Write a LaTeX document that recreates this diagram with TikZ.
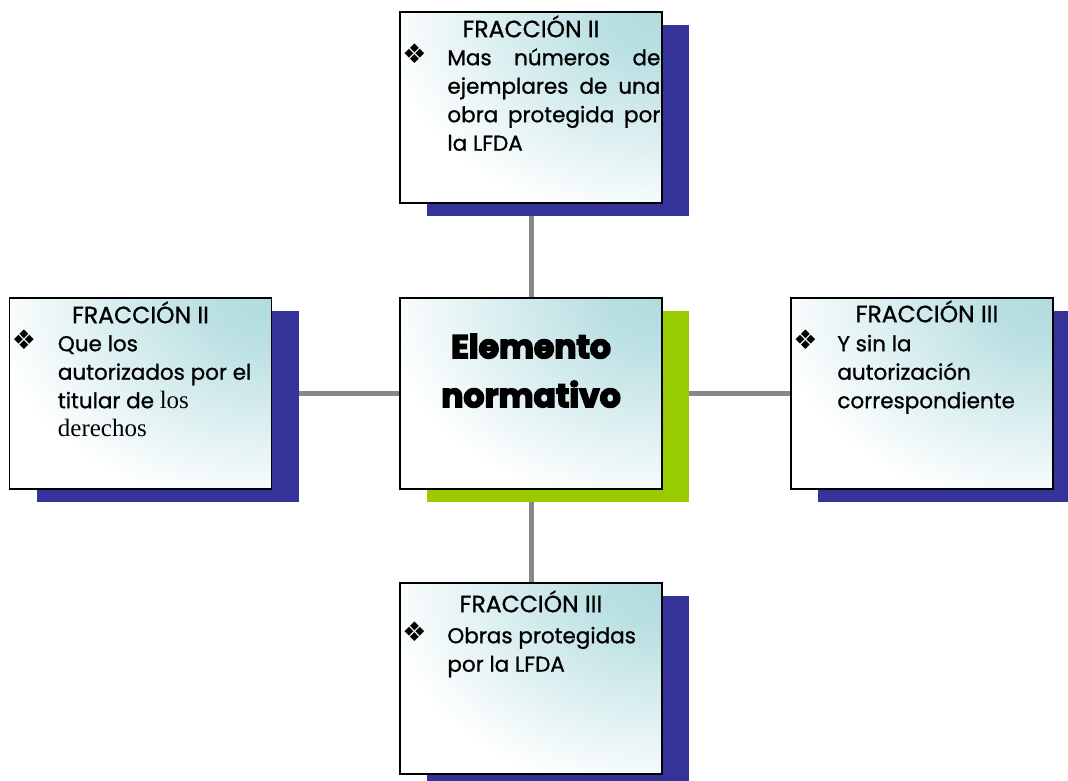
\documentclass[tikz,border=0pt]{standalone}
\usepackage{fontspec}
\setmainfont{Poppins}[FakeBold=0.9]
\newfontfamily\bulletfont{DejaVu Sans}
\newfontfamily\serifpart{Liberation Serif}
\newfontfamily\heavyfont{Poppins}[BoldFeatures={FakeBold=4.5}]
\usetikzlibrary{shadows,backgrounds}
\definecolor{navy}{HTML}{333399}
\definecolor{lime}{HTML}{99CC00}
\definecolor{tealish}{HTML}{B2DCDF}
\definecolor{conngray}{HTML}{888888}
\pgfdeclareradialshading{tealglow}{\pgfpoint{0bp}{0bp}}{color(0bp)=(tealish); color(5bp)=(tealish!92!white); color(26bp)=(white); color(50bp)=(white)}
\newcommand\mybody[2]{\parbox[t]{#1}{\fontsize{21.5}{28.5}\selectfont #2}}
\tikzset{
  fbox/.style={rectangle, draw=black, line width=1.6pt, minimum width=262pt,
    minimum height=191pt, inner sep=0pt, fill=white,
    path picture={\shade[shading=tealglow]
      ([xshift=-270pt,yshift=-205pt]path picture bounding box.north east) rectangle
      ([xshift=270pt,yshift=205pt]path picture bounding box.north east);},
    general shadow={fill=#1, shadow xshift=27pt, shadow yshift=-13pt}},
  fbox/.default=navy,
  conn/.style={draw=conngray, line width=5pt},
  titletext/.style={anchor=base, inner sep=0pt, font=\fontsize{23.5}{28.5}\selectfont},
  bul/.style={anchor=base west, inner sep=0pt, font=\bulletfont\fontsize{27}{28}\selectfont},
  bodytext/.style={anchor=base west, inner sep=0pt},
}
\begin{document}
\begin{tikzpicture}[x=1pt,y=-1pt]
\useasboundingbox (0,0) rectangle (1068,780);
% boxes
\node[fbox] (top) at (531,107.5) {};
\node[fbox] (left) at (140.5,393.5) {};
\node[fbox=lime] (core) at (531,393.5) {};
\node[fbox] (right) at (922,393.5) {};
\node[fbox] (bot) at (531,678.5) {};
% connectors
\begin{scope}[on background layer]
\fill[white] (0,0) rectangle (1068,780);
\draw[conn] (core) -- (top);
\draw[conn] (core) -- (bot);
\draw[conn] (core) -- (left);
\draw[conn] (core) -- (right);
\end{scope}
% top box text
\node[titletext] (topT) at ([yshift=-26pt]top.north) {FRACCIÓN II};
\node[bul] (topB) at ([xshift=3pt,yshift=-52pt]top.north west) {❖};
\node[bodytext] (topX) at ([xshift=48pt,yshift=-54pt]top.north west)
  {\mybody{213pt}{Mas\hfill números\hfill de\\ejemplares\hfill de\hfill una\\obra\hfill protegida\hfill por\\la LFDA}};
% left box text
\node[titletext] (leftT) at ([yshift=-26pt]left.north) {FRACCIÓN II};
\node[bul] (leftB) at ([xshift=3pt,yshift=-52pt]left.north west) {❖};
\node[bodytext] (leftX) at ([xshift=49pt,yshift=-54pt]left.north west)
  {\mybody{210pt}{Que los\\autorizados por el\\titular de {\serifpart\fontsize{25}{28.5}\selectfont los\\derechos}}};
% right box text
\node[titletext] (rightT) at ([xshift=5pt,yshift=-25pt]right.north) {FRACCIÓN III};
\node[bul] (rightB) at ([xshift=3pt,yshift=-52pt]right.north west) {❖};
\node[bodytext] (rightX) at ([xshift=47pt,yshift=-54pt]right.north west)
  {\mybody{210pt}{Y sin la\\autorización\\correspondiente}};
% bottom box text
\node[titletext] (botT) at ([yshift=-30pt]bot.north) {FRACCIÓN III};
\node[bul] (botB) at ([xshift=3pt,yshift=-59pt]bot.north west) {❖};
\node[bodytext] (botX) at ([xshift=48pt,yshift=-61pt]bot.north west)
  {\mybody{210pt}{Obras protegidas\\por la LFDA}};
% core text
\node[anchor=base, inner sep=0pt] (coreT) at ([yshift=-61pt]core.north)
  {\parbox[t]{250pt}{\centering\heavyfont\bfseries\fontsize{33}{49}\selectfont Elemento\\normativo}};
\end{tikzpicture}
\end{document}
